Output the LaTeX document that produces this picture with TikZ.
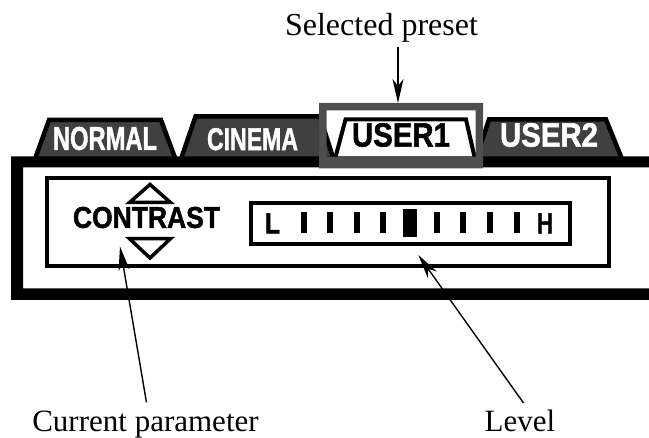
\documentclass[tikz,border=0pt]{standalone}
\usepackage{fontspec}
\usepackage{graphicx}
\setmainfont{Liberation Serif}
\newfontfamily\hvfont{Liberation Sans}[BoldFeatures={FakeBold=1.6}]
\usetikzlibrary{arrows.meta}
\definecolor{tabgray}{RGB}{64,64,64}
\definecolor{selgray}{RGB}{78,78,78}
\newcommand{\fitbox}[3]{\resizebox{#1pt}{#2pt}{\hvfont\bfseries #3}}
\begin{document}
\begin{tikzpicture}[x=1pt,y=-1pt,
  tab/.style={fill=tabgray,draw=black,line width=4.5pt,line join=miter},
  seltab/.style={fill=white,draw=black,line width=4pt,line join=miter},
  tablabel/.style={inner sep=0pt,text=white},
  panellabel/.style={inner sep=0pt,text=black},
  box/.style={draw=black,line width=4pt},
  tri/.style={draw=black,line width=3.5pt,line join=miter},
  bar/.style={fill=black},
  caption/.style={font=\fontsize{31}{37}\selectfont,anchor=base,inner sep=0pt},
  arr/.style={line width=1.4pt,-{Stealth[length=24pt,width=11pt,inset=7pt]}}
]
\useasboundingbox (0,0) rectangle (649,438);
% tabs
\draw[tab] (35,159) -- (49,120) -- (161,120) -- (175.5,159);
\draw[tab] (181,159) -- (195.5,116.5) -- (320,116.5) -- (333.5,159);
\draw[tab] (476,159) -- (489,119.5) -- (606,119.5) -- (622,159);
\draw[seltab] (335,159) -- (345.5,119.5) -- (466,119.5) -- (475,159);
% black outer frame
\fill[black] (649,156.5) -- (11,156.5) -- (11,300) -- (649,300) -- (649,288.3) -- (23,288.3) -- (23,167.5) -- (649,167.5) -- cycle;
% gray selection frame
\fill[selgray,even odd rule] (319,103) rectangle (483,168.3) (326.5,110.5) rectangle (475.5,156.7);
% tab labels
\node[tablabel] (tnormal) at (105,138.5) {\fitbox{104}{23}{NORMAL}};
\node[tablabel] (tcinema) at (252.5,139.2) {\fitbox{91}{22}{CINEMA}};
\node[panellabel] (tuser1) at (401,135) {\fitbox{98}{23.5}{USER1}};
\node[tablabel] (tuser2) at (549,135) {\fitbox{98}{23.5}{USER2}};
% inner panel
\draw[box] (46.5,178) rectangle (609,266);
\draw[box] (250.5,203) rectangle (570,244);
\node[panellabel] (contrast) at (146.5,217.5) {\fitbox{147}{21}{CONTRAST}};
\draw[tri] (129.5,202.5) -- (150,184.5) -- (170.5,202.5) -- cycle;
\draw[tri] (129.5,238.7) -- (150,258) -- (170.5,238.7) -- cycle;
\node[panellabel] (low) at (272.5,223.3) {\fitbox{15}{20}{L}};
\node[panellabel] (high) at (545,223.3) {\fitbox{16}{20}{H}};
\foreach \x in {304,330,357,383,437,463,490,517}
  \fill[bar] (\x-2.75,212) rectangle (\x+2.75,233);
\fill[bar] (403.3,209.3) rectangle (416.7,236.7);
% captions and arrows
\node[caption,font=\fontsize{32}{38}\selectfont] (sel) at (381.5,36) {Selected preset};
\node[caption] (cur) at (145.5,431.5) {Current parameter};
\node[caption] (lev) at (520,431.5) {Level};
\coordinate (selS) at (398,47);
\coordinate (selT) at (398,103);
\coordinate (curS) at (146.5,402.5);
\coordinate (curT) at (120,246.5);
\coordinate (levS) at (523.5,403);
\coordinate (levT) at (418.3,255);
\draw[arr] (selS) -- (selT);
\draw[arr] (curS) -- (curT);
\draw[arr] (levS) -- (levT);
\end{tikzpicture}
\end{document}
